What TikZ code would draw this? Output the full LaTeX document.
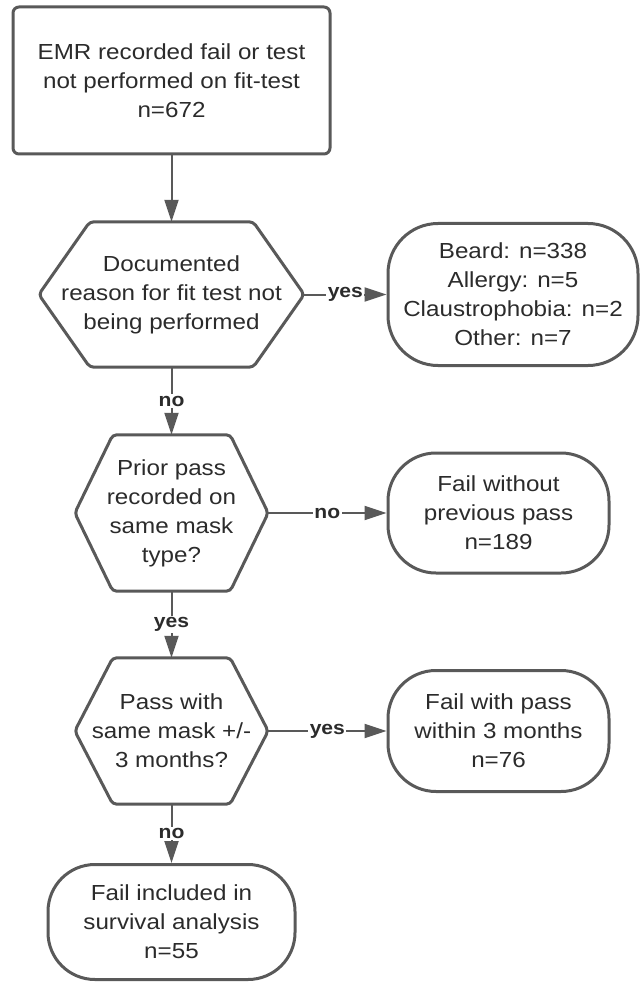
\documentclass[tikz,border=0pt]{standalone}
\usepackage{fontspec}
\setmainfont[FakeStretch=1.11]{Liberation Sans}
\usetikzlibrary{arrows.meta}
\definecolor{ln}{HTML}{595959}
\definecolor{tx}{HTML}{2B2B2B}
\begin{document}
\begin{tikzpicture}[x=1pt,y=-1pt,
  txt/.style={font=\fontsize{21.8}{29}\selectfont, align=center, text=tx},
  boxnode/.style={txt, draw=ln, line width=3pt, rounded corners=6pt, inner sep=0pt},
  pill/.style={txt, draw=ln, line width=3pt, rounded corners=48pt, inner sep=0pt},
  hexnode/.style={txt, inner sep=0pt},
  hexline/.style={draw=ln, line width=3pt, rounded corners=4pt, line join=round},
  conn/.style={draw=ln, line width=2pt, -{Triangle[length=22pt,width=14pt]}},
  lbl/.style={font=\fontsize{19}{22}\selectfont\bfseries, fill=white, inner sep=1.5pt, text=tx}
]
\useasboundingbox (0,0) rectangle (640,984);

% nodes
\node[boxnode, minimum width=317, minimum height=147] (top) at (171.5,80.5)
  {EMR recorded fail or test\\not performed on fit-test\\n=672};

\node[hexnode, minimum width=265, minimum height=145] (h1) at (171.5,294.5)
  {Documented\\reason for fit test not\\being performed};
\draw[hexline] (h1.north) -- ([xshift=-51]h1.north east) -- (h1.east) -- ([xshift=-51]h1.south east)
  -- ([xshift=51]h1.south west) -- (h1.west) -- ([xshift=51]h1.north west) -- cycle;

\node[pill, rounded corners=50pt, minimum width=250, minimum height=142] (beard) at (513,294.5)
  {Beard: n=338\\Allergy: n=5\\Claustrophobia: n=2\\Other: n=7};

\node[hexnode, minimum width=193, minimum height=156] (h2) at (171.5,513)
  {Prior pass\\recorded on\\same mask\\type?};
\draw[hexline] (h2.north) -- ([xshift=-38]h2.north east) -- (h2.east) -- ([xshift=-38]h2.south east)
  -- ([xshift=38]h2.south west) -- (h2.west) -- ([xshift=38]h2.north west) -- cycle;

\node[pill, minimum width=221, minimum height=120] (nopass) at (498.5,513)
  {Fail without\\previous pass\\n=189};

\node[hexnode, minimum width=193, minimum height=146] (h3) at (171.5,731)
  {Pass with\\same mask +/-\\3 months?};
\draw[hexline] (h3.north) -- ([xshift=-38]h3.north east) -- (h3.east) -- ([xshift=-38]h3.south east)
  -- ([xshift=38]h3.south west) -- (h3.west) -- ([xshift=38]h3.north west) -- cycle;

\node[pill, minimum width=221, minimum height=121] (within) at (498.5,731)
  {Fail with pass\\within 3 months\\n=76};

\node[pill, rounded corners=47pt, minimum width=247, minimum height=115] (final) at (171.5,922)
  {Fail included in\\survival analysis\\n=55};

% connectors
\draw[conn] (top.south) -- (h1.north);
\draw[conn] (h1.east) -- node[lbl]{yes} (beard.west);
\draw[conn] (h1.south) -- node[lbl]{no} (h2.north);
\draw[conn] (h2.east) -- node[lbl]{no} (nopass.west);
\draw[conn] (h2.south) -- node[lbl]{yes} (h3.north);
\draw[conn] (h3.east) -- node[lbl]{yes} (within.west);
\draw[conn] (h3.south) -- node[lbl]{no} (final.north);
\end{tikzpicture}
\end{document}
